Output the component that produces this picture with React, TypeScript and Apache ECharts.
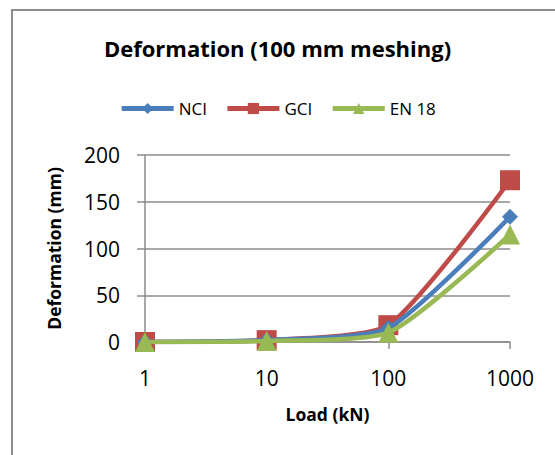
import React, { useEffect, useRef } from "react";
import * as echarts from "echarts";

const loads = [1, 10, 100, 1000];
const nci = [0, 2, 15, 134];
const gci = [0, 2, 18, 173];
const en18 = [0, 1, 10, 115];
const seriesNames = ["NCI", "GCI", "EN 18"];

export default function App() {
  const ref = useRef<HTMLDivElement>(null);
  useEffect(() => {
    if (!ref.current) return;
    const chart = echarts.init(ref.current, undefined, { renderer: "svg" });
    const font = "'Open Sans', 'Noto Sans', sans-serif";
    const mk = (vals: number[]) => loads.map((x, i) => [x, vals[i]]);
    chart.setOption({
      animation: false,
      backgroundColor: "#ffffff",
      title: {
        text: "Deformation (100 mm meshing)",
        left: "center",
        top: 32,
        textStyle: { fontFamily: font, fontWeight: "bold", fontSize: 22, color: "#000" },
      },
      legend: {
        top: 95,
        left: "center",
        itemWidth: 52,
        itemHeight: 14,
        itemGap: 18,
        lineStyle: { width: 5 },
        textStyle: { fontFamily: font, fontSize: 17, color: "#000" },
        data: seriesNames,
      },
      graphic: [
        {
          type: "rect",
          shape: { x: 12, y: 10, width: 700, height: 600 },
          style: { fill: "none", stroke: "#8c8c8c", lineWidth: 2 },
          silent: true,
        },
      ],
      grid: { left: 145, right: 45, top: 155, bottom: 113, containLabel: false },
      xAxis: {
        type: "log",
        logBase: 10,
        min: 1,
        max: 1000,
        name: "Load (kN)",
        nameLocation: "middle",
        nameGap: 63,
        nameTextStyle: { fontFamily: font, fontWeight: "bold", fontSize: 17.5, color: "#000" },
        axisLine: { lineStyle: { color: "#8c8c8c", width: 1.5 } },
        axisTick: { show: true, length: 7, lineStyle: { color: "#8c8c8c", width: 1.5 } },
        axisLabel: {
          fontFamily: font,
          fontSize: 21,
          color: "#000",
          margin: 25,
          formatter: (v: number) => String(Math.round(v)),
        },
        splitLine: { show: false },
        minorTick: { show: false },
      },
      yAxis: {
        type: "value",
        min: 0,
        max: 200,
        interval: 50,
        name: "Deformation (mm)",
        nameLocation: "middle",
        nameGap: 82,
        nameTextStyle: { fontFamily: font, fontWeight: "bold", fontSize: 17.5, color: "#000" },
        axisLine: { show: true, lineStyle: { color: "#8c8c8c", width: 1.5 } },
        axisTick: { show: true, length: 8, lineStyle: { color: "#8c8c8c", width: 1.5 } },
        axisLabel: { fontFamily: font, fontSize: 21, color: "#000", margin: 25 },
        splitLine: { show: true, lineStyle: { color: "#8c8c8c", width: 1.5 } },
      },
      series: [
        {
          name: "NCI",
          type: "line",
          data: mk(nci),
          smooth: 0.2,
          symbol: "diamond",
          symbolSize: 16,
          color: "#4A7EBB",
          lineStyle: { width: 4.5, color: "#4A7EBB" },
          itemStyle: { color: "#4A7EBB" },
          z: 3,
        },
        {
          name: "GCI",
          type: "line",
          data: mk(gci),
          smooth: 0.2,
          symbol: "rect",
          symbolSize: 20,
          color: "#BE4B48",
          lineStyle: { width: 4.5, color: "#BE4B48" },
          itemStyle: { color: "#BE4B48" },
          z: 2,
        },
        {
          name: "EN 18",
          type: "line",
          data: mk(en18),
          smooth: 0.2,
          symbol: "triangle",
          symbolSize: 20,
          color: "#98B954",
          lineStyle: { width: 4.5, color: "#98B954" },
          itemStyle: { color: "#98B954" },
          z: 4,
        },
      ],
    });
    return () => chart.dispose();
  }, []);
  return <div ref={ref} style={{ width: 555, height: 455, position: "absolute", left: 0, top: 0 }} />;
}
